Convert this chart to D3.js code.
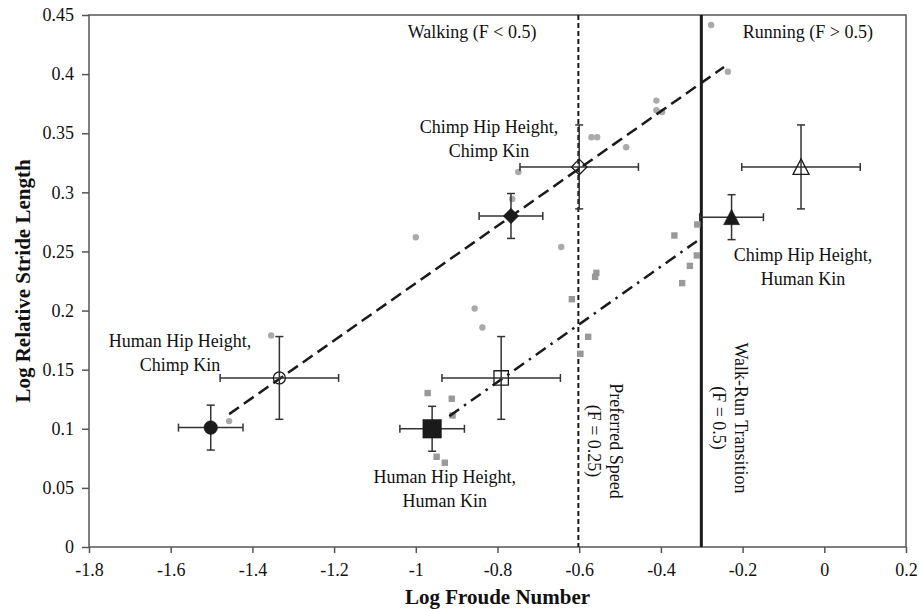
<!DOCTYPE html>
<html>
<head>
<meta charset="utf-8">
<script src="https://cdn.jsdelivr.net/npm/d3@7"></script>
<style>
  body { margin: 0; background: #fff; }
  svg { display: block; font-family: "Liberation Serif", "Times New Roman", serif; }
</style>
</head>
<body>
<div id="chartArea"></div>
<script>
// individual trials (grey dots) - chimp kinematics
const chimpKinX = [-1.457, -1.354, -1.0, -0.856, -0.837, -0.764, -0.749, -0.644, -0.570, -0.556,
                   -0.485, -0.411, -0.411, -0.397, -0.277, -0.236];
const chimpKinY = [0.1065, 0.179, 0.262, 0.2018, 0.1857, 0.2944, 0.3172, 0.2538, 0.3466, 0.3466,
                   0.3381, 0.3776, 0.3694, 0.368, 0.4415, 0.402];
// individual trials (grey squares) - human kinematics
const humanKinX = [-0.971, -0.912, -0.910, -0.949, -0.929, -0.618, -0.561, -0.558, -0.578, -0.597,
                   -0.367, -0.311, -0.312, -0.329, -0.348];
const humanKinY = [0.1302, 0.1254, 0.1113, 0.0763, 0.0713, 0.2096, 0.2285, 0.2319, 0.1778, 0.1634,
                   0.2635, 0.2728, 0.2466, 0.2378, 0.2232];

// group means with error bars
const meanShape  = ["circle", "circle", "square", "square", "diamond", "diamond", "triangle", "triangle"];
const meanFilled = [true, false, true, false, true, false, true, false];
const meanX = [-1.502, -1.334, -0.960, -0.791, -0.767, -0.600, -0.227, -0.057];
const meanY = [0.101, 0.143, 0.100, 0.143, 0.280, 0.3215, 0.279, 0.3215];
const errX  = [0.079, 0.145, 0.079, 0.145, 0.078, 0.145, 0.078, 0.145];
const errY  = [0.019, 0.035, 0.019, 0.035, 0.019, 0.0355, 0.019, 0.0355];

// regression lines
const fitChimpX = [-1.457, -0.2455];
const fitChimpY = [0.1124, 0.406];
const fitHumanX = [-0.918, -0.312];
const fitHumanY = [0.1107, 0.2587];

// reference lines: preferred speed (F=0.25), walk-run (F=0.5)
const prefSpeedX = Math.log10(0.25);
const walkRunX = Math.log10(0.5);

const xTicks = [-1.8, -1.6, -1.4, -1.2, -1, -0.8, -0.6, -0.4, -0.2, 0, 0.2];
const yTicks = [0, 0.05, 0.1, 0.15, 0.2, 0.25, 0.3, 0.35, 0.4, 0.45];

const W = 919, H = 609;
const svg = d3.select("#chartArea").append("svg")
  .attr("width", W)
  .attr("height", H);

const x = d3.scaleLinear().domain([-1.8, 0.2]).range([89, 906]);
const y = d3.scaleLinear().domain([0, 0.45]).range([547, 15]);

const axisCol = "#555";
const ink = "#1a1a1a";
const fmt = d => String(+d.toFixed(2));

// axes
const xAxis = svg.append("g")
  .attr("transform", `translate(0,${y(0)})`)
  .call(d3.axisBottom(x).tickValues(xTicks).tickFormat(fmt).tickSize(6).tickPadding(10).tickSizeOuter(0));
const yAxis = svg.append("g")
  .attr("transform", `translate(${x(-1.8)},0)`)
  .call(d3.axisLeft(y).tickValues(yTicks).tickFormat(fmt).tickSize(7).tickPadding(8).tickSizeOuter(0));
[xAxis, yAxis].forEach(a => {
  a.select(".domain").remove();
  a.selectAll("line").attr("stroke", axisCol).attr("stroke-width", 1.5);
  a.selectAll("text").attr("font-family", "Liberation Serif").attr("font-size", "18px").attr("fill", "#111");
});

// plot frame
svg.append("rect")
  .attr("x", x(-1.8)).attr("y", y(0.45))
  .attr("width", x(0.2) - x(-1.8)).attr("height", y(0) - y(0.45))
  .attr("fill", "none").attr("stroke", axisCol).attr("stroke-width", 1.5);

// vertical reference lines
svg.append("line")
  .attr("x1", x(prefSpeedX)).attr("x2", x(prefSpeedX))
  .attr("y1", y(0.45)).attr("y2", y(0))
  .attr("stroke", ink).attr("stroke-width", 2).attr("stroke-dasharray", "5,3");
svg.append("line")
  .attr("x1", x(walkRunX)).attr("x2", x(walkRunX))
  .attr("y1", y(0.45)).attr("y2", y(0))
  .attr("stroke", ink).attr("stroke-width", 3);

// grey trial points
svg.selectAll("circle.trial")
  .data(d3.range(chimpKinX.length))
  .enter().append("circle")
  .attr("class", "trial")
  .attr("cx", i => x(chimpKinX[i]))
  .attr("cy", i => y(chimpKinY[i]))
  .attr("r", 3.2)
  .attr("fill", "#aaa");

svg.selectAll("rect.trial")
  .data(d3.range(humanKinX.length))
  .enter().append("rect")
  .attr("class", "trial")
  .attr("x", i => x(humanKinX[i]) - 3.2)
  .attr("y", i => y(humanKinY[i]) - 3.2)
  .attr("width", 6.4).attr("height", 6.4)
  .attr("fill", "#999");

// regression lines
const line = d3.line().x(d => x(d[0])).y(d => y(d[1]));
svg.append("path")
  .attr("d", line(d3.zip(fitChimpX, fitChimpY)))
  .attr("stroke", ink).attr("stroke-width", 2.5).attr("fill", "none")
  .attr("stroke-dasharray", "12,6");
svg.append("path")
  .attr("d", line(d3.zip(fitHumanX, fitHumanY)))
  .attr("stroke", ink).attr("stroke-width", 2.5).attr("fill", "none")
  .attr("stroke-dasharray", "12,6,2.5,6");

// error bars
const eb = svg.append("g").attr("stroke", "#333").attr("stroke-width", 1.5);
const cap = 4;
meanX.forEach((mx, i) => {
  const cx = x(mx), cy = y(meanY[i]);
  const x0 = x(mx - errX[i]), x1 = x(mx + errX[i]);
  const y0 = y(meanY[i] - errY[i]), y1 = y(meanY[i] + errY[i]);
  eb.append("line").attr("x1", x0).attr("x2", x1).attr("y1", cy).attr("y2", cy);
  eb.append("line").attr("x1", cx).attr("x2", cx).attr("y1", y0).attr("y2", y1);
  eb.append("line").attr("x1", x0).attr("x2", x0).attr("y1", cy - cap).attr("y2", cy + cap);
  eb.append("line").attr("x1", x1).attr("x2", x1).attr("y1", cy - cap).attr("y2", cy + cap);
  eb.append("line").attr("x1", cx - cap).attr("x2", cx + cap).attr("y1", y0).attr("y2", y0);
  eb.append("line").attr("x1", cx - cap).attr("x2", cx + cap).attr("y1", y1).attr("y2", y1);
});

// marker shapes
function shapePath(shape, filled) {
  if (shape === "circle") {
    const r = filled ? 6.8 : 6;
    return `M${-r},0A${r},${r} 0 1,0 ${r},0A${r},${r} 0 1,0 ${-r},0Z`;
  }
  if (shape === "square") {
    const h = filled ? 9.3 : 7.2;
    return `M${-h},${-h}H${h}V${h}H${-h}Z`;
  }
  if (shape === "diamond") {
    const h = 7.8;
    return `M0,${-h}L${h},0L0,${h}L${-h},0Z`;
  }
  return "M0,-8L8,7.5L-8,7.5Z";
}
svg.selectAll("path.mean")
  .data(d3.range(meanX.length))
  .enter().append("path")
  .attr("class", "mean")
  .attr("transform", i => `translate(${x(meanX[i])},${y(meanY[i])})`)
  .attr("d", i => shapePath(meanShape[i], meanFilled[i]))
  .attr("fill", i => meanFilled[i] ? ink : "none")
  .attr("stroke", ink)
  .attr("stroke-width", i => meanFilled[i] ? 0.5 : 1.3);

// annotations
const fs = "18px";
function label(lines, cx, by) {
  const t = svg.append("text")
    .attr("text-anchor", "middle")
    .attr("font-size", fs)
    .attr("fill", "#111");
  lines.forEach((s, k) => {
    t.append("tspan").attr("x", cx).attr("y", by + k * 23.5).text(s);
  });
}
label(["Walking (F < 0.5)"], x(-0.862), 38);
label(["Running (F > 0.5)"], x(-0.040), 38);
label(["Chimp Hip Height,", "Chimp Kin"], x(-0.821), 133);
label(["Human Hip Height,", "Chimp Kin"], x(-1.577), 347);
label(["Human Hip Height,", "Human Kin"], x(-0.929), 483);
label(["Chimp Hip Height,", "Human Kin"], x(-0.052), 261);

function vlabel(lines, bx, cy) {
  const t = svg.append("text")
    .attr("text-anchor", "middle")
    .attr("font-size", fs)
    .attr("fill", "#111")
    .attr("transform", `translate(${bx},${cy}) rotate(90)`);
  lines.forEach((s, k) => {
    t.append("tspan").attr("x", 0).attr("y", k * 22).text(s);
  });
}
vlabel(["Preferred Speed", "(F = 0.25)"], 610, 441);
vlabel(["Walk-Run Transition", "(F = 0.5)"], 735, 418);

// axis titles
svg.append("text")
  .attr("x", (x(-1.8) + x(0.2)) / 2)
  .attr("y", 604)
  .attr("text-anchor", "middle")
  .attr("font-weight", "bold")
  .attr("font-size", "21px")
  .attr("fill", "#111")
  .text("Log Froude Number");
svg.append("text")
  .attr("transform", `translate(30,${(y(0) + y(0.45)) / 2}) rotate(-90)`)
  .attr("text-anchor", "middle")
  .attr("font-weight", "bold")
  .attr("font-size", "21px")
  .attr("fill", "#111")
  .text("Log Relative Stride Length");
</script>
</body>
</html>
